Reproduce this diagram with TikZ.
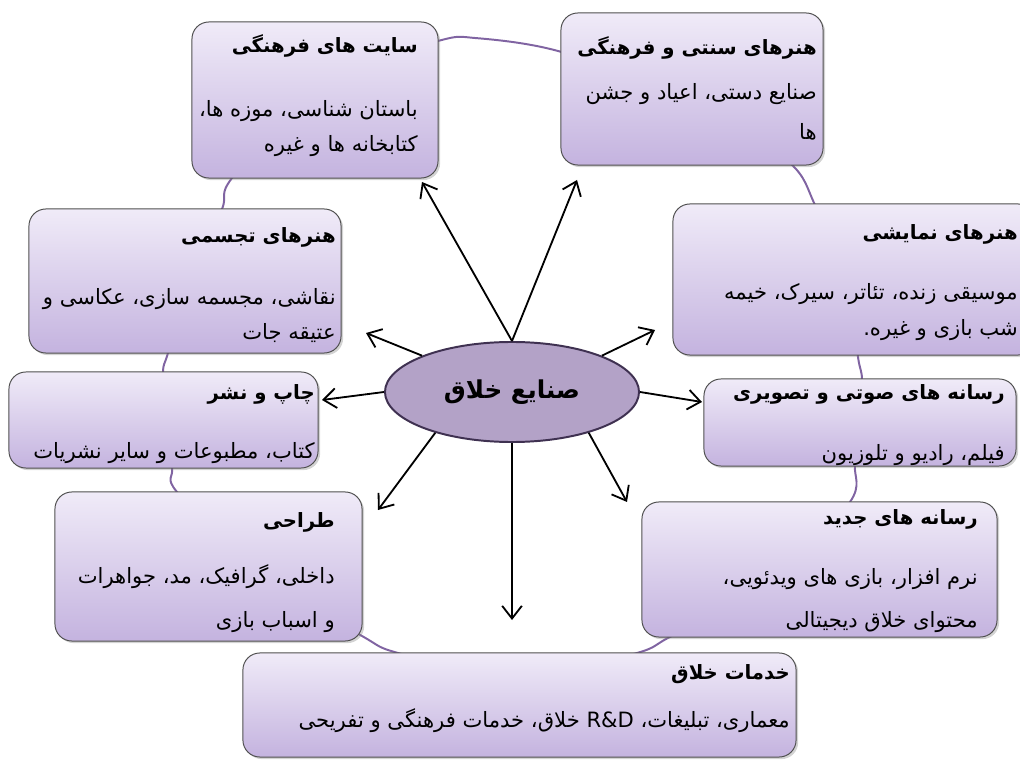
\documentclass[tikz,border=0pt]{standalone}
\usepackage{fontspec}
\newfontfamily\fa[Script=Arabic]{DejaVu Sans}
\TeXXeTstate=1
\usepackage{tikz}
\usetikzlibrary{shapes.geometric, positioning, arrows.meta, shadows}
\definecolor{BoxTop}{RGB}{240,235,248}
\definecolor{BoxBot}{RGB}{196,179,223}
\definecolor{BoxLine}{RGB}{80,80,80}
\definecolor{RingLine}{RGB}{128,100,162}
\definecolor{CoreFill}{RGB}{179,162,199}
\definecolor{CoreLine}{RGB}{63,49,81}
\newcommand{\faline}[1]{\beginR #1\endR}
\newcommand{\fatitle}[1]{{\bfseries\fontsize{14}{25}\selectfont\beginR #1\endR}}

\begin{document}
\begin{tikzpicture}[x=0.025cm, y=-0.025cm,
            cat/.style={rectangle, rounded corners=12pt, draw=BoxLine, line width=0.7pt,
                        top color=BoxTop, bottom color=BoxBot,
                        drop shadow={shadow xshift=1.5pt, shadow yshift=-1.5pt, opacity=0.35}},
            txt/.style={anchor=base east, align=right, inner sep=0pt,
                        font=\fa\fontsize{15}{25}\selectfont},
            core/.style={ellipse, draw=CoreLine, line width=1.4pt, fill=CoreFill, inner sep=0pt,
                         minimum width=6.35cm, minimum height=2.5cm,
                         font=\fa\bfseries\fontsize{17.5}{22}\selectfont},
            spoke/.style={-{Straight Barb[length=9pt,width=14pt]}, line width=1.3pt},
            ring/.style={RingLine, line width=1.4pt}
          ]
          \useasboundingbox (0,0) rectangle (1020,760);
          % ring behind the boxes
          \draw[ring] plot[smooth cycle, tension=0.5] coordinates {
                (438,41) (475,38) (558,51) (700,100) (790,163) (815,205) (850,290)
                (858,357) (862,380) (858,425) (855,466) (850,502) (770,590)
                (672,636) (637,653) (518,680) (398,653) (362,636) (260,575)
                (177,492) (172,468) (165,420) (163,372) (168,353) (190,280)
                (222,209) (232,178) (320,80)};

          % boxes
          \node[cat, minimum width=6.15cm, minimum height=3.9cm] (site) at (315,100) {};
          \node[cat, minimum width=6.55cm, minimum height=3.8cm] (sonnati) at (692,89) {};
          \node[cat, minimum width=7.8cm, minimum height=3.6cm] (tajassomi) at (185,281) {};
          \node[cat, minimum width=9.05cm, minimum height=3.775cm] (namayeshi) at (854,279.5) {};
          \node[cat, minimum width=7.725cm, minimum height=2.4cm] (chap) at (163.5,420) {};
          \node[cat, minimum width=7.8cm, minimum height=2.175cm] (sowti) at (860,422.5) {};
          \node[cat, minimum width=7.675cm, minimum height=3.725cm] (tarrahi) at (208.5,566.5) {};
          \node[cat, minimum width=8.875cm, minimum height=3.375cm] (jadid) at (819.5,569.5) {};
          \node[cat, minimum width=13.825cm, minimum height=2.6cm] (khadamat) at (519.5,705) {};

          % texts (placed at the baseline of their last line)
          \node[txt] (siteT) at (418,152)
                {\fatitle{سایت های فرهنگی}\\[20.5pt]
                 \faline{باستان شناسی، موزه ها،}\\\faline{کتابخانه ها و غیره}};
          \node[txt] (sonnatiT) at (817,140)
                {\fatitle{هنرهای سنتی و فرهنگی}\\[7pt]
                 \faline{صنایع دستی، اعیاد و جشن}\\[3.5pt]\faline{ها}};
          \node[txt] (tajassomiT) at (336,340)
                {\fatitle{هنرهای تجسمی}\\[19pt]
                 \faline{نقاشی، مجسمه سازی، عکاسی و}\\\faline{عتیقه جات}};
          \node[txt] (namayeshiT) at (1018,336)
                {\fatitle{هنرهای نمایشی}\\[17.7pt]
                 \faline{موسیقی زنده، تئاتر، سیرک، خیمه}\\[0.6pt]\faline{شب بازی و غیره.}};
          \node[txt] (chapT) at (315,459)
                {\fatitle{چاپ و نشر}\\[17pt]
                 \faline{کتاب، مطبوعات و سایر نشریات}};
          \node[txt] (sowtiT) at (1005,461)
                {\fatitle{رسانه های صوتی و تصویری}\\[18.4pt]
                 \faline{فیلم، رادیو و تلوزیون}};
          \node[txt] (tarrahiT) at (335,627)
                {\fatitle{طراحی}\\[15pt]
                 \faline{داخلی، گرافیک، مد، جواهرات}\\[6pt]\faline{و اسباب بازی}};
          \node[txt] (jadidT) at (978,627)
                {\fatitle{رسانه های جدید}\\[17.7pt]
                 \faline{نرم افزار، بازی های ویدئویی،}\\[5pt]\faline{محتوای خلاق دیجیتالی}};
          \node[txt] (khadamatT) at (790,727)
                {\fatitle{خدمات خلاق}\\[9pt]
                 \faline{معماری، تبلیغات، \beginL R\&D\endL{} خلاق، خدمات فرهنگی و تفریحی}};

          \node[core] (core) at (512,392) {\faline{صنایع خلاق}};

          % arrow tips
          \coordinate (t1) at (422,182);
          \coordinate (t2) at (577,180);
          \coordinate (t3) at (366,333);
          \coordinate (t4) at (655,330);
          \coordinate (t5) at (322,400);
          \coordinate (t6) at (702,402);
          \coordinate (t7) at (378,510);
          \coordinate (t8) at (627,502);
          \coordinate (t9) at (512,620);

          \draw[spoke] (core.north) -- (t1);
          \draw[spoke] (core.north) -- (t2);
          \draw[spoke] (core.158) -- (t3);
          \draw[spoke] (core.22) -- (t4);
          \draw[spoke] (core.west) -- (t5);
          \draw[spoke] (core.east) -- (t6);
          \draw[spoke] (core.208) -- (t7);
          \draw[spoke] (core.332) -- (t8);
          \draw[spoke] (core.south) -- (t9);
        \end{tikzpicture}
\end{document}
